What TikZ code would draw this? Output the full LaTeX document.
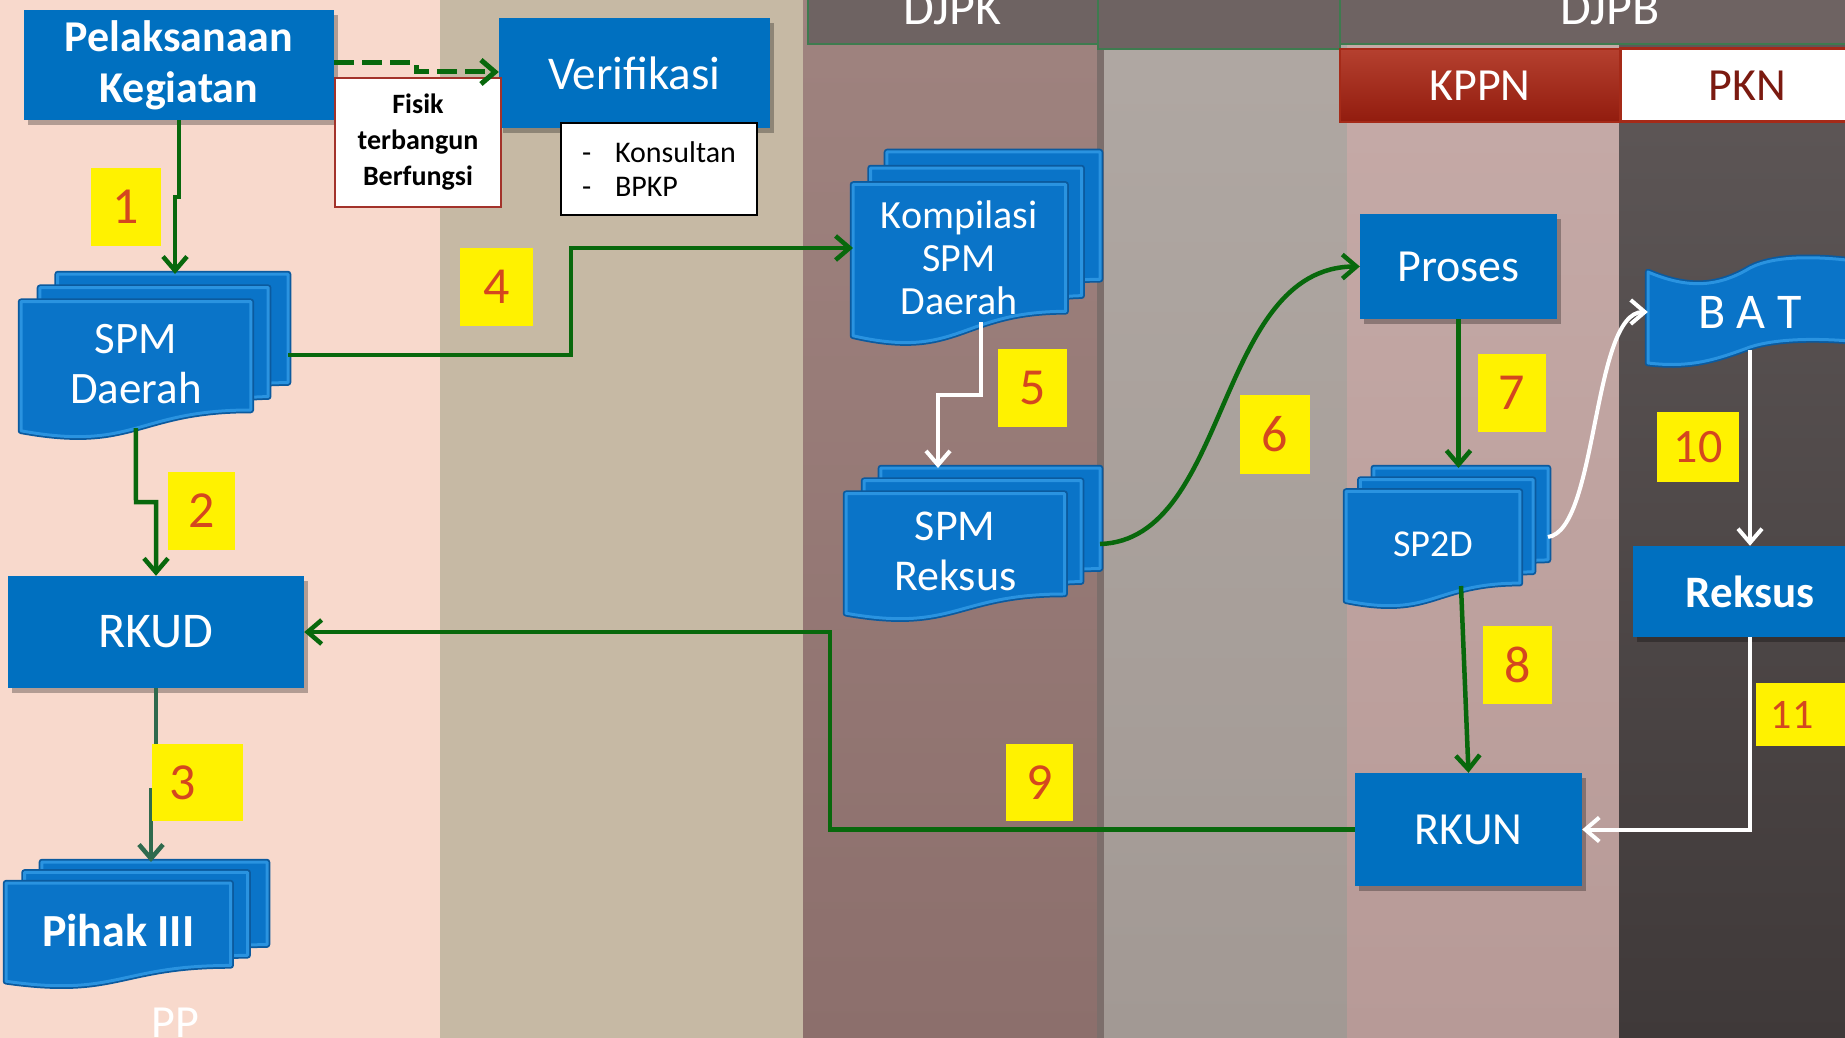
\documentclass[tikz,border=0pt]{standalone}
\usepackage{fontspec}
\setmainfont{Carlito}
\usetikzlibrary{arrows.meta,calc}
\definecolor{laneA}{HTML}{F8D9CC}
\definecolor{laneB}{HTML}{C6B9A4}
\definecolor{laneCt}{HTML}{9F837F}
\definecolor{laneCb}{HTML}{8C6F6C}
\definecolor{laneSep}{HTML}{7C6E6B}
\definecolor{laneDt}{HTML}{B0A8A3}
\definecolor{laneDb}{HTML}{A29994}
\definecolor{laneEt}{HTML}{C6ABA8}
\definecolor{laneEb}{HTML}{B79A97}
\definecolor{laneFt}{HTML}{605959}
\definecolor{laneFb}{HTML}{3F3939}
\definecolor{boxblue}{HTML}{0070C0}
\definecolor{docfill}{HTML}{0A74C8}
\definecolor{docrim}{HTML}{2A93E0}
\definecolor{docedge}{HTML}{0B5A9E}
\definecolor{arrgreen}{HTML}{08680C}
\definecolor{tealgreen}{HTML}{2F6A4D}
\definecolor{numred}{HTML}{D4471F}
\definecolor{fisred}{HTML}{A3332B}
\definecolor{hdrfill}{HTML}{6E6362}
\definecolor{hdrline}{HTML}{3E7B4F}
\definecolor{kppntop}{HTML}{B5402F}
\definecolor{kppnbot}{HTML}{921C0E}
\definecolor{kppnline}{HTML}{A52A18}
\definecolor{pkntext}{HTML}{7B1A10}
\tikzset{
  bluebox/.style={fill=boxblue, text=white, inner sep=0pt, align=center,
    preaction={fill=black, opacity=0.28, transform canvas={shift={(4pt,-5pt)}}}},
  doctext/.style={text=white, align=center, inner sep=0pt},
  docshape/.style={fill=docfill, draw=docrim, line width=3pt, line join=round,
    preaction={draw=docedge, line width=6.5pt, line join=round}},
  numlab/.style={fill=yellow, inner sep=0pt, text=numred, font=\fontsize{52}{60}\selectfont},
  numtxt/.style={text=numred, inner sep=0pt, font=\fontsize{52}{60}\selectfont},
  garrow/.style={draw=arrgreen, line width=4.5pt, -{Straight Barb[length=14pt,width=24pt]}},
  tarrow/.style={draw=tealgreen, line width=4.5pt, -{Straight Barb[length=14pt,width=24pt]}},
  warrow/.style={draw=white, line width=4pt, -{Straight Barb[length=14pt,width=24pt]}},
  hdr/.style={fill=hdrfill, draw=hdrline, line width=2.5pt},
  hdrtext/.style={text=white, inner sep=0pt, font=\fontsize{50}{56}\selectfont},
}
\newcommand\mydoc[7]{%
  \begin{scope}[shift={(#2,#3)},xscale={#4/216},yscale={#5/216}]
    \path[docshape] (29.72,18.15) -- (29.72,0) -- (216,0) -- (216,143.92)
      .. controls (208,143.92) and (200,144.67) .. (200,144.67) -- (200,18.15) -- cycle;
    \path[docshape] (15.32,36.75) -- (15.32,18.15) -- (200,18.15) -- (200,162.52)
      .. controls (192.98,162.52) and (185.95,163.52) .. (185.95,163.52) -- (185.95,36.75) -- cycle;
    \path[docshape] (0,207.82) .. controls (92.98,235.42) and (92.98,180.22) .. (185.95,180.22)
      -- (185.95,36.75) -- (0,36.75) -- cycle;
  \end{scope}
  \coordinate (#1-nw) at (#2,#3);
  \coordinate (#1-se) at ({#2+#4},{#3+#5});
  \coordinate (#1-bot) at ({#2+0.4305*#4},{#3+0.946*#5});
  \node[doctext,#6] (#1) at ({#2+0.43*#4},{#3+0.555*#5}) {#7};
}
\begin{document}
\begin{tikzpicture}[x=1pt,y=-1pt]
\useasboundingbox (0,0) rectangle (1845,1038);
% lanes
\fill[laneA] (0,0) rectangle (440,1038);
\fill[laneB] (440,0) rectangle (803,1038);
\shade[top color=laneCt, bottom color=laneCb] (803,0) rectangle (1097,1038);
\fill[laneSep] (1097,0) rectangle (1104,1038);
\shade[top color=laneDt, bottom color=laneDb] (1104,0) rectangle (1347,1038);
\shade[top color=laneEt, bottom color=laneEb] (1347,0) rectangle (1619,1038);
\shade[top color=laneFt, bottom color=laneFb] (1619,0) rectangle (1845,1038);
% headers
\draw[hdr] (808,-5) rectangle (1098,44);
\draw[hdr] (1098,-5) rectangle (1340,49);
\draw[hdr] (1340,-5) rectangle (1860,44);
\node[hdrtext, anchor=base] (djpk) at (952,25) {DJPK};
\node[hdrtext, anchor=base] (djpb) at (1610,25) {DJPB};
\node[top color=kppntop, bottom color=kppnbot, draw=kppnline, line width=2.5pt,
  minimum width=280pt, minimum height=73pt, inner sep=0pt, text=white,
  font=\fontsize{46}{52}\selectfont] (kppn) at (1480,85.5) {KPPN};
\node[fill=white, draw=kppnline, line width=3pt, minimum width=255pt, minimum height=73pt,
  inner sep=0pt, text=pkntext, font=\fontsize{46}{52}\selectfont] (pkn) at (1747.5,85.5) {PKN};
% blue boxes
\node[bluebox, minimum width=310pt, minimum height=110pt, font=\bfseries\fontsize{44}{51}\selectfont]
  (pel) at (179,65) {Pelaksanaan\\Kegiatan};
\node[bluebox, minimum width=271pt, minimum height=110pt, font=\fontsize{47}{54}\selectfont]
  (ver) at (634.5,73) {Verifikasi};
\node[bluebox, minimum width=296pt, minimum height=112pt, font=\fontsize{50}{56}\selectfont]
  (rkud) at (156,632) {RKUD};
\node[bluebox, minimum width=197pt, minimum height=105pt, font=\fontsize{46}{52}\selectfont]
  (proses) at (1458.5,266.5) {Proses};
\node[bluebox, minimum width=227pt, minimum height=113pt, font=\fontsize{46}{52}\selectfont]
  (rkun) at (1468.5,829.5) {RKUN};
\node[bluebox, minimum width=234pt, minimum height=91pt, font=\bfseries\fontsize{45}{52}\selectfont]
  (reksus) at (1750,591.5) {Reksus};
% note boxes
\node[draw=fisred, fill=white, line width=2.5pt, minimum width=166pt, minimum height=129pt,
  inner sep=0pt, align=center, font=\bfseries\fontsize{28}{36}\selectfont]
  (fisik) at (418,142.5) {Fisik\\terbangun\\Berfungsi};
\node[draw=black, fill=white, line width=2.5pt, minimum width=196pt, minimum height=92pt,
  inner sep=0pt, align=left, font=\fontsize{30}{34}\selectfont]
  (kons) at (659,169) {\makebox[33pt][l]{-}Konsultan\\\makebox[33pt][l]{-}BPKP};
% documents
\mydoc{spmd}{21}{274}{267}{163}{font=\fontsize{45}{50}\selectfont}{SPM\\Daerah}
\mydoc{kom}{853}{152}{247}{191}{font=\fontsize{40}{43}\selectfont}{Kompilasi\\SPM\\Daerah}
\mydoc{spmr}{846}{468}{254}{151}{font=\fontsize{44}{50}\selectfont}{SPM\\Reksus}
\mydoc{sp2d}{1346}{468}{202}{138}{font=\fontsize{38}{44}\selectfont}{SP2D}
\mydoc{pihak}{6}{862}{261}{124}{font=\bfseries\fontsize{46}{52}\selectfont}{Pihak III}
% BAT wave
\path[docshape] (1648,272) .. controls (1690,290) and (1720,286) .. (1750,268)
  .. controls (1775,255) and (1820,256) .. (1862,262) -- (1862,342)
  .. controls (1820,338) and (1778,338) .. (1750,347)
  .. controls (1715,360) and (1690,368) .. (1648,363) -- cycle;
\node[doctext, minimum width=204pt, minimum height=76pt, font=\fontsize{50}{56}\selectfont]
  (bat) at (1750,312) {B A T};
% connectors
\draw[garrow, line width=5pt, dash pattern=on 20pt off 8pt] (pel.east |- 0,63) -- (416,63) -- (416,72) -- (ver.west |- 0,72);
\draw[garrow] (pel.south) -- ++(0,77) -- ++(-4,0) -- (spmd-nw -| 175,0);
\draw[garrow] (spmd-bot) -- (136,502) -- (rkud.north |- 0,502) -- (rkud.north);
\draw[tarrow] (rkud.south) -- (156,790) -- (151,790) -- (pihak-nw -| 151,0);
\draw[garrow] (spmd-se |- 0,355) -| (571,248) -- (kom-nw |- 0,248);
\draw[warrow] ($(kom-nw)+(128,170)$) -- ++(0,73) -| (spmr-nw -| 938,0);
\draw[garrow] (spmr-se |- 0,544) .. controls (1230,540) and (1215,267) .. (proses.west);
\draw[garrow] (proses.south) -- (proses.south |- sp2d-nw);
\draw[garrow] ($(sp2d-nw)+(115,118)$) -- (rkun.north);
\draw[garrow] (rkun.west) -- (830,829.5) |- (rkud.east);
\draw[warrow] (sp2d-se |- 0,537) .. controls (1598,530) and (1592,312) .. (bat.west);
\draw[warrow] (bat.south) -- (reksus.north);
\draw[warrow] (reksus.south) |- (rkun.east);
% number labels
\node[numlab, minimum width=70pt, minimum height=78pt] (n1) at (126,207) {1};
\node[numlab, minimum width=67pt, minimum height=78pt] (n2) at (201.5,511) {2};
\node[numlab, minimum width=91pt, minimum height=77pt] (n3) at (197.5,782.5) {};
\node[numtxt] (n3t) at (183,783) {3};
\node[numlab, minimum width=73pt, minimum height=78pt] (n4) at (496.5,287) {4};
\node[numlab, minimum width=69pt, minimum height=78pt] (n5) at (1032.5,388) {5};
\node[numlab, minimum width=70pt, minimum height=79pt] (n6) at (1275,434.5) {6};
\node[numlab, minimum width=68pt, minimum height=78pt] (n7) at (1512,393) {7};
\node[numlab, minimum width=69pt, minimum height=78pt] (n8) at (1517.5,665) {8};
\node[numlab, minimum width=67pt, minimum height=77pt] (n9) at (1039.5,782.5) {9};
\node[numlab, minimum width=82pt, minimum height=70pt, font=\fontsize{48}{56}\selectfont] (n10) at (1698,447) {10};
\node[numlab, minimum width=89pt, minimum height=63pt] (n11) at (1800.5,714.5) {};
\node[numtxt, font=\fontsize{42}{50}\selectfont] (n11t) at (1792,715) {11};
% PP
\node[text=white, inner sep=0pt, anchor=base, font=\fontsize{46}{52}\selectfont] (pp) at (175,1037) {PP};
\end{tikzpicture}
\end{document}
